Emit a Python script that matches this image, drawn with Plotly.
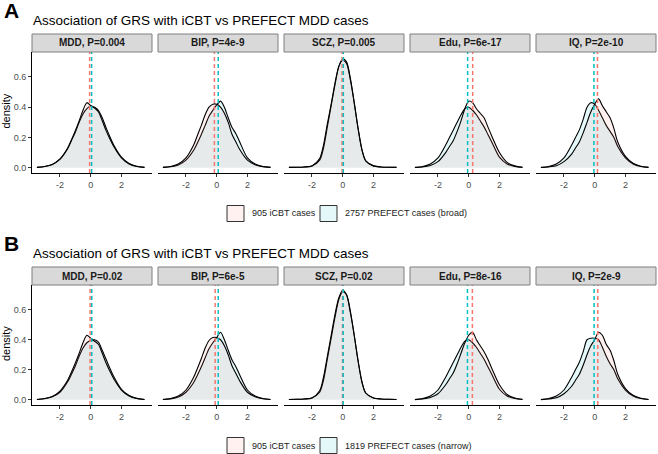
import plotly.graph_objects as go

# ---------------- data ----------------
grid_x = [-3.5, -3, -2.5, -2, -1.5, -1.25, -1, -0.75, -0.5, -0.25, 0,
          0.25, 0.5, 0.75, 1, 1.25, 1.5, 2, 2.5, 3, 3.5]

traits = ["MDD", "BIP", "SCZ", "Edu", "IQ"]
strip_A = ["MDD, P=0.004", "BIP, P=4e-9", "SCZ, P=0.005", "Edu, P=6e-17", "IQ, P=2e-10"]
strip_B = ["MDD, P=0.02", "BIP, P=6e-5", "SCZ, P=0.02", "Edu, P=8e-16", "IQ, P=2e-9"]

title_text = "Association of GRS with iCBT vs PREFECT MDD cases"
legend_A = ["905 iCBT cases", "2757 PREFECT cases (broad)"]
legend_B = ["905 iCBT cases", "1819 PREFECT cases (narrow)"]

# Panel A densities (iCBT, PREFECT broad)
A_icbt = {
    "MDD": [.002, .008, .022, .058, .13, .185, .245, .31, .38, .43, .41, .395, .37, .31, .245, .19, .14, .065, .025, .008, .002],
    "BIP": [.002, .008, .025, .065, .15, .215, .28, .35, .40, .42, .42, .40, .36, .30, .22, .17, .12, .05, .02, .007, .002],
    "SCZ": [.002, .003, .005, .012, .06, .15, .29, .42, .56, .67, .71, .69, .58, .43, .26, .12, .045, .012, .005, .003, .002],
    "Edu": [.001, .005, .015, .04, .10, .14, .18, .24, .31, .39, .44, .43, .39, .36, .33, .27, .21, .10, .035, .012, .003],
    "IQ":  [.001, .005, .013, .04, .09, .13, .17, .23, .30, .37, .42, .455, .41, .37, .33, .26, .17, .075, .03, .01, .002],
}
A_pref = {
    "MDD": [.002, .008, .022, .055, .125, .18, .235, .30, .355, .39, .41, .40, .38, .33, .265, .205, .15, .07, .028, .009, .002],
    "BIP": [.002, .006, .018, .05, .115, .165, .22, .28, .34, .38, .415, .44, .40, .33, .265, .225, .17, .065, .025, .008, .002],
    "SCZ": [.002, .003, .005, .012, .05, .13, .27, .41, .55, .67, .72, .70, .59, .43, .26, .12, .045, .012, .005, .003, .002],
    "Edu": [.002, .008, .025, .065, .15, .20, .25, .30, .35, .39, .40, .38, .35, .31, .27, .22, .17, .07, .025, .008, .002],
    "IQ":  [.002, .008, .025, .065, .15, .20, .25, .32, .40, .43, .42, .38, .33, .28, .24, .20, .14, .065, .025, .008, .002],
}
# Panel B densities (iCBT, PREFECT narrow)
B_icbt = {
    "MDD": [.002, .008, .022, .058, .13, .185, .245, .31, .38, .43, .41, .39, .37, .31, .245, .19, .14, .065, .025, .008, .002],
    "BIP": [.002, .008, .025, .065, .15, .21, .275, .345, .395, .415, .415, .40, .36, .30, .225, .175, .125, .05, .02, .007, .002],
    "SCZ": [.002, .003, .005, .012, .06, .15, .29, .43, .57, .68, .73, .70, .58, .43, .26, .12, .045, .012, .005, .003, .002],
    "Edu": [.001, .005, .015, .04, .10, .14, .18, .24, .31, .38, .43, .45, .40, .36, .32, .27, .21, .10, .035, .012, .003],
    "IQ":  [.001, .005, .013, .04, .09, .13, .17, .23, .30, .36, .40, .45, .43, .37, .33, .26, .17, .075, .03, .01, .002],
}
B_pref = {
    "MDD": [.002, .007, .02, .05, .12, .17, .225, .29, .345, .38, .395, .40, .385, .33, .27, .21, .155, .07, .028, .009, .002],
    "BIP": [.002, .006, .018, .05, .115, .165, .22, .28, .34, .38, .415, .45, .40, .33, .265, .22, .165, .065, .025, .008, .002],
    "SCZ": [.002, .003, .005, .012, .05, .13, .27, .41, .55, .67, .72, .70, .59, .43, .26, .12, .045, .012, .005, .003, .002],
    "Edu": [.002, .008, .025, .065, .15, .20, .25, .30, .35, .39, .40, .38, .35, .31, .27, .22, .17, .07, .025, .008, .002],
    "IQ":  [.002, .008, .025, .065, .15, .20, .25, .32, .40, .41, .41, .40, .35, .29, .24, .20, .14, .065, .025, .008, .002],
}
# group means (dashed lines)
A_mean_icbt = [-0.07, -0.15, -0.04, 0.26, 0.18]
A_mean_pref = [0.06, 0.10, 0.04, -0.07, -0.05]
B_mean_icbt = [-0.04, -0.10, -0.01, 0.24, 0.20]
B_mean_pref = [0.07, 0.10, 0.03, -0.08, -0.04]

# ---------------- style ----------------
W, H = 658, 454
PINK = "#F8766D"
CYAN = "#00BFC4"
PINK_FILL = "rgba(248,118,109,0.10)"
CYAN_FILL = "rgba(0,191,196,0.10)"
FONT = "Liberation Sans, Arial, sans-serif"

facet_left = [32 + 126 * i for i in range(5)]
facet_w = 120
rows = [
    dict(top=52, bottom=173, strip_top=34, label="A", label_y=11, title_y=20,
         legend_y=213.5, strips=strip_A, icbt=A_icbt, pref=A_pref,
         m_i=A_mean_icbt, m_p=A_mean_pref, legend=legend_A),
    dict(top=285, bottom=405, strip_top=267, label="B", label_y=243, title_y=253,
         legend_y=445.5, strips=strip_B, icbt=B_icbt, pref=B_pref,
         m_i=B_mean_icbt, m_p=B_mean_pref, legend=legend_B),
]
XR = [-3.82, 3.99]
YR = [-0.035, 0.765]

fig = go.Figure()
layout = dict(width=W, height=H, margin=dict(l=0, r=0, t=0, b=0),
              paper_bgcolor="white", plot_bgcolor="white", showlegend=False,
              font=dict(family=FONT, color="#1A1A1A"))
shapes = []
annotations = []

def px_x(p):
    return p / W

def px_y(p):
    return 1 - p / H

for r, row in enumerate(rows):
    for i, t in enumerate(traits):
        n = r * 5 + i + 1
        xa = "x" if n == 1 else f"x{n}"
        ya = "y" if n == 1 else f"y{n}"
        # densities (PREFECT underneath, iCBT on top)
        for vals, fillc in ((row["pref"][t], CYAN_FILL), (row["icbt"][t], PINK_FILL)):
            fig.add_trace(go.Scatter(
                x=grid_x, y=vals, mode="lines", xaxis=xa, yaxis=ya,
                line=dict(color="black", width=1.1, shape="spline", smoothing=0.8),
                fill="tozeroy", fillcolor=fillc, hoverinfo="skip"))
        # axes
        left = facet_left[i]
        layout[f"xaxis{'' if n == 1 else n}"] = dict(
            domain=[px_x(left), px_x(left + facet_w)], range=XR, anchor=ya,
            showgrid=False, zeroline=False, showline=True, linecolor="black",
            linewidth=1, ticks="outside", ticklen=3, tickcolor="#333333",
            tickvals=[-2, 0, 2], ticktext=["-2", "0", "2"],
            tickfont=dict(size=9, color="#4D4D4D", family=FONT), fixedrange=True)
        first = (i == 0)
        layout[f"yaxis{'' if n == 1 else n}"] = dict(
            domain=[px_y(row["bottom"]), px_y(row["top"])], range=YR, anchor=xa,
            showgrid=False, zeroline=False, showline=first, linecolor="black",
            linewidth=1, ticks="outside" if first else "", ticklen=3,
            tickcolor="#333333", showticklabels=first,
            tickvals=[0, 0.2, 0.4, 0.6], ticktext=["0.0", "0.2", "0.4", "0.6"],
            tickfont=dict(size=9, color="#4D4D4D", family=FONT), fixedrange=True)
        # mean lines
        for m, c in ((row["m_i"][i], PINK), (row["m_p"][i], CYAN)):
            shapes.append(dict(type="line", xref=xa, yref=f"{ya} domain",
                               x0=m, x1=m, y0=0, y1=1,
                               line=dict(color=c, width=1.5, dash="4px,3px")))
        # strip
        shapes.append(dict(type="rect", xref="paper", yref="paper",
                           x0=px_x(left), x1=px_x(left + facet_w),
                           y0=px_y(row["top"]), y1=px_y(row["strip_top"]),
                           fillcolor="#D9D9D9", line=dict(color="#7F7F7F", width=1)))
        annotations.append(dict(xref="paper", yref="paper",
                                x=px_x(left + facet_w / 2),
                                y=px_y((row["top"] + row["strip_top"]) / 2),
                                text=f"<b>{row['strips'][i]}</b>", showarrow=False,
                                xanchor="center", yanchor="middle",
                                font=dict(size=10, color="#1A1A1A", family=FONT)))
    # panel label
    annotations.append(dict(xref="paper", yref="paper", x=px_x(2), y=px_y(row["label_y"]),
                            text=f"<b>{row['label']}</b>", showarrow=False,
                            xanchor="left", yanchor="middle",
                            font=dict(size=21, color="black", family=FONT)))
    # title
    annotations.append(dict(xref="paper", yref="paper", x=px_x(31), y=px_y(row["title_y"]),
                            text=title_text, showarrow=False, xanchor="left", yanchor="middle",
                            font=dict(size=13.5, color="black", family=FONT)))
    # y title
    annotations.append(dict(xref="paper", yref="paper", x=px_x(6),
                            y=px_y((row["top"] + row["bottom"]) / 2 - 1),
                            text="density", showarrow=False, textangle=-90,
                            xanchor="center", yanchor="middle",
                            font=dict(size=11, color="black", family=FONT)))
    # legend
    ly = row["legend_y"]
    box_x = [227, 320]
    txt_x = [250, 343]
    fills = [PINK_FILL, CYAN_FILL]
    for k in range(2):
        shapes.append(dict(type="rect", xref="paper", yref="paper",
                           x0=px_x(box_x[k]), x1=px_x(box_x[k] + 17),
                           y0=px_y(ly + 8), y1=px_y(ly - 8),
                           fillcolor=fills[k], line=dict(color="#333333", width=1)))
        annotations.append(dict(xref="paper", yref="paper", x=px_x(txt_x[k]), y=px_y(ly),
                                text=row["legend"][k], showarrow=False,
                                xanchor="left", yanchor="middle",
                                font=dict(size=9, color="#1A1A1A", family=FONT)))

layout["shapes"] = shapes
layout["annotations"] = annotations
fig.update_layout(**layout)
fig.write_html("out.html", config={"displayModeBar": False},
               post_script="document.body.style.margin='0';document.body.style.padding='0';document.body.style.overflow='hidden';")
